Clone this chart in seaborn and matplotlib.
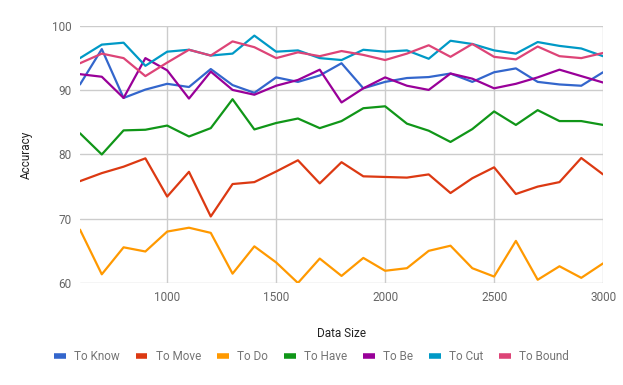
import numpy as np
import pandas as pd
import matplotlib
matplotlib.use("Agg")
import matplotlib.pyplot as plt
import seaborn as sns

data_size = list(range(600, 3001, 100))

to_know = [90.9, 96.4, 88.8, 90.1, 91.0, 90.5, 93.3, 90.8, 89.6, 92.0, 91.3, 92.3, 94.2,
           90.3, 91.3, 91.9, 92.05, 92.6, 91.3, 92.8, 93.4, 91.3, 90.9, 90.7, 92.8]
to_move = [75.85, 77.1, 78.1, 79.4, 73.45, 77.3, 70.35, 75.4, 75.7, 77.35, 79.1, 75.5, 78.8,
           76.6, 76.5, 76.4, 76.9, 74.0, 76.3, 78.0, 73.85, 75.0, 75.7, 79.45, 76.9]
to_do = [68.3, 61.35, 65.55, 64.9, 68.0, 68.6, 67.8, 61.45, 65.7, 63.2, 60.0, 63.8, 61.1,
         63.9, 61.9, 62.3, 65.0, 65.8, 62.3, 61.0, 66.55, 60.5, 62.6, 60.8, 63.05]
to_have = [83.3, 80.0, 83.75, 83.85, 84.5, 82.8, 84.1, 88.6, 83.9, 84.9, 85.6, 84.1, 85.2,
           87.2, 87.5, 84.8, 83.7, 81.95, 83.95, 86.7, 84.6, 86.9, 85.2, 85.2, 84.6]
to_be = [92.5, 92.1, 88.8, 95.0, 93.1, 88.7, 92.9, 90.05, 89.3, 90.7, 91.6, 93.2, 88.1,
         90.3, 92.0, 90.7, 90.05, 92.6, 91.8, 90.3, 91.0, 92.0, 93.2, 92.2, 91.2]
to_cut = [95.0, 97.1, 97.4, 93.8, 96.0, 96.3, 95.4, 95.7, 98.5, 96.0, 96.2, 95.0, 94.7,
          96.3, 96.0, 96.2, 94.9, 97.7, 97.2, 96.2, 95.7, 97.5, 96.9, 96.5, 95.3]
to_bound = [94.2, 95.7, 95.0, 92.2, 94.3, 96.3, 95.4, 97.6, 96.7, 95.0, 95.9, 95.3, 96.1,
            95.5, 94.7, 95.7, 97.0, 95.2, 97.2, 95.2, 94.8, 96.8, 95.3, 95.0, 95.8]

series_names = ["To Know", "To Move", "To Do", "To Have", "To Be", "To Cut", "To Bound"]
series_values = [to_know, to_move, to_do, to_have, to_be, to_cut, to_bound]
colors = ["#3366CC", "#DC3912", "#FF9900", "#109618", "#990099", "#0099C6", "#DD4477"]

y_ticks = [60, 70, 80, 90, 100]
x_ticks = [1000, 1500, 2000, 2500, 3000]

# long-form table for seaborn
rows = []
for name, vals in zip(series_names, series_values):
    for x, v in zip(data_size, vals):
        rows.append({"Data Size": x, "Accuracy": v, "series": name})
df = pd.DataFrame(rows)

sns.set_style("white")
plt.rcParams['font.family'] = ['Roboto', 'DejaVu Sans']

fig = plt.figure(figsize=(6.23, 3.85), dpi=100)
ax = fig.add_axes([0.1284, 0.265, 0.8396, 0.6675])

sns.lineplot(data=df, x="Data Size", y="Accuracy", hue="series",
             hue_order=series_names, palette=colors, linewidth=1.6,
             ax=ax, legend=False)

ax.set_xlim(600, 3000)
ax.set_ylim(60, 100)
ax.set_xticks(x_ticks)
ax.set_yticks(y_ticks)
ax.grid(True, color="#cccccc", linewidth=1)
ax.set_axisbelow(True)
for s in ax.spines.values():
    s.set_visible(False)
ax.tick_params(length=0, labelsize=8.5, labelcolor="#666666", pad=6)
ax.set_xlabel("Data Size", fontsize=8.5, color="#222222", labelpad=16)
ax.set_ylabel("Accuracy", fontsize=8.5, color="#222222", labelpad=14)

# legend along the bottom
handles = [plt.Line2D([], [], color=c, linewidth=4, solid_capstyle="butt") for c in colors]
fig.legend(handles, series_names, loc="center", bbox_to_anchor=(0.5, 1 - 357 / 385),
           ncol=7, frameon=False, fontsize=8.5, labelcolor="#757575",
           handlelength=1.0, handletextpad=0.7, columnspacing=1.35)

fig.savefig("out.png", dpi=100)
